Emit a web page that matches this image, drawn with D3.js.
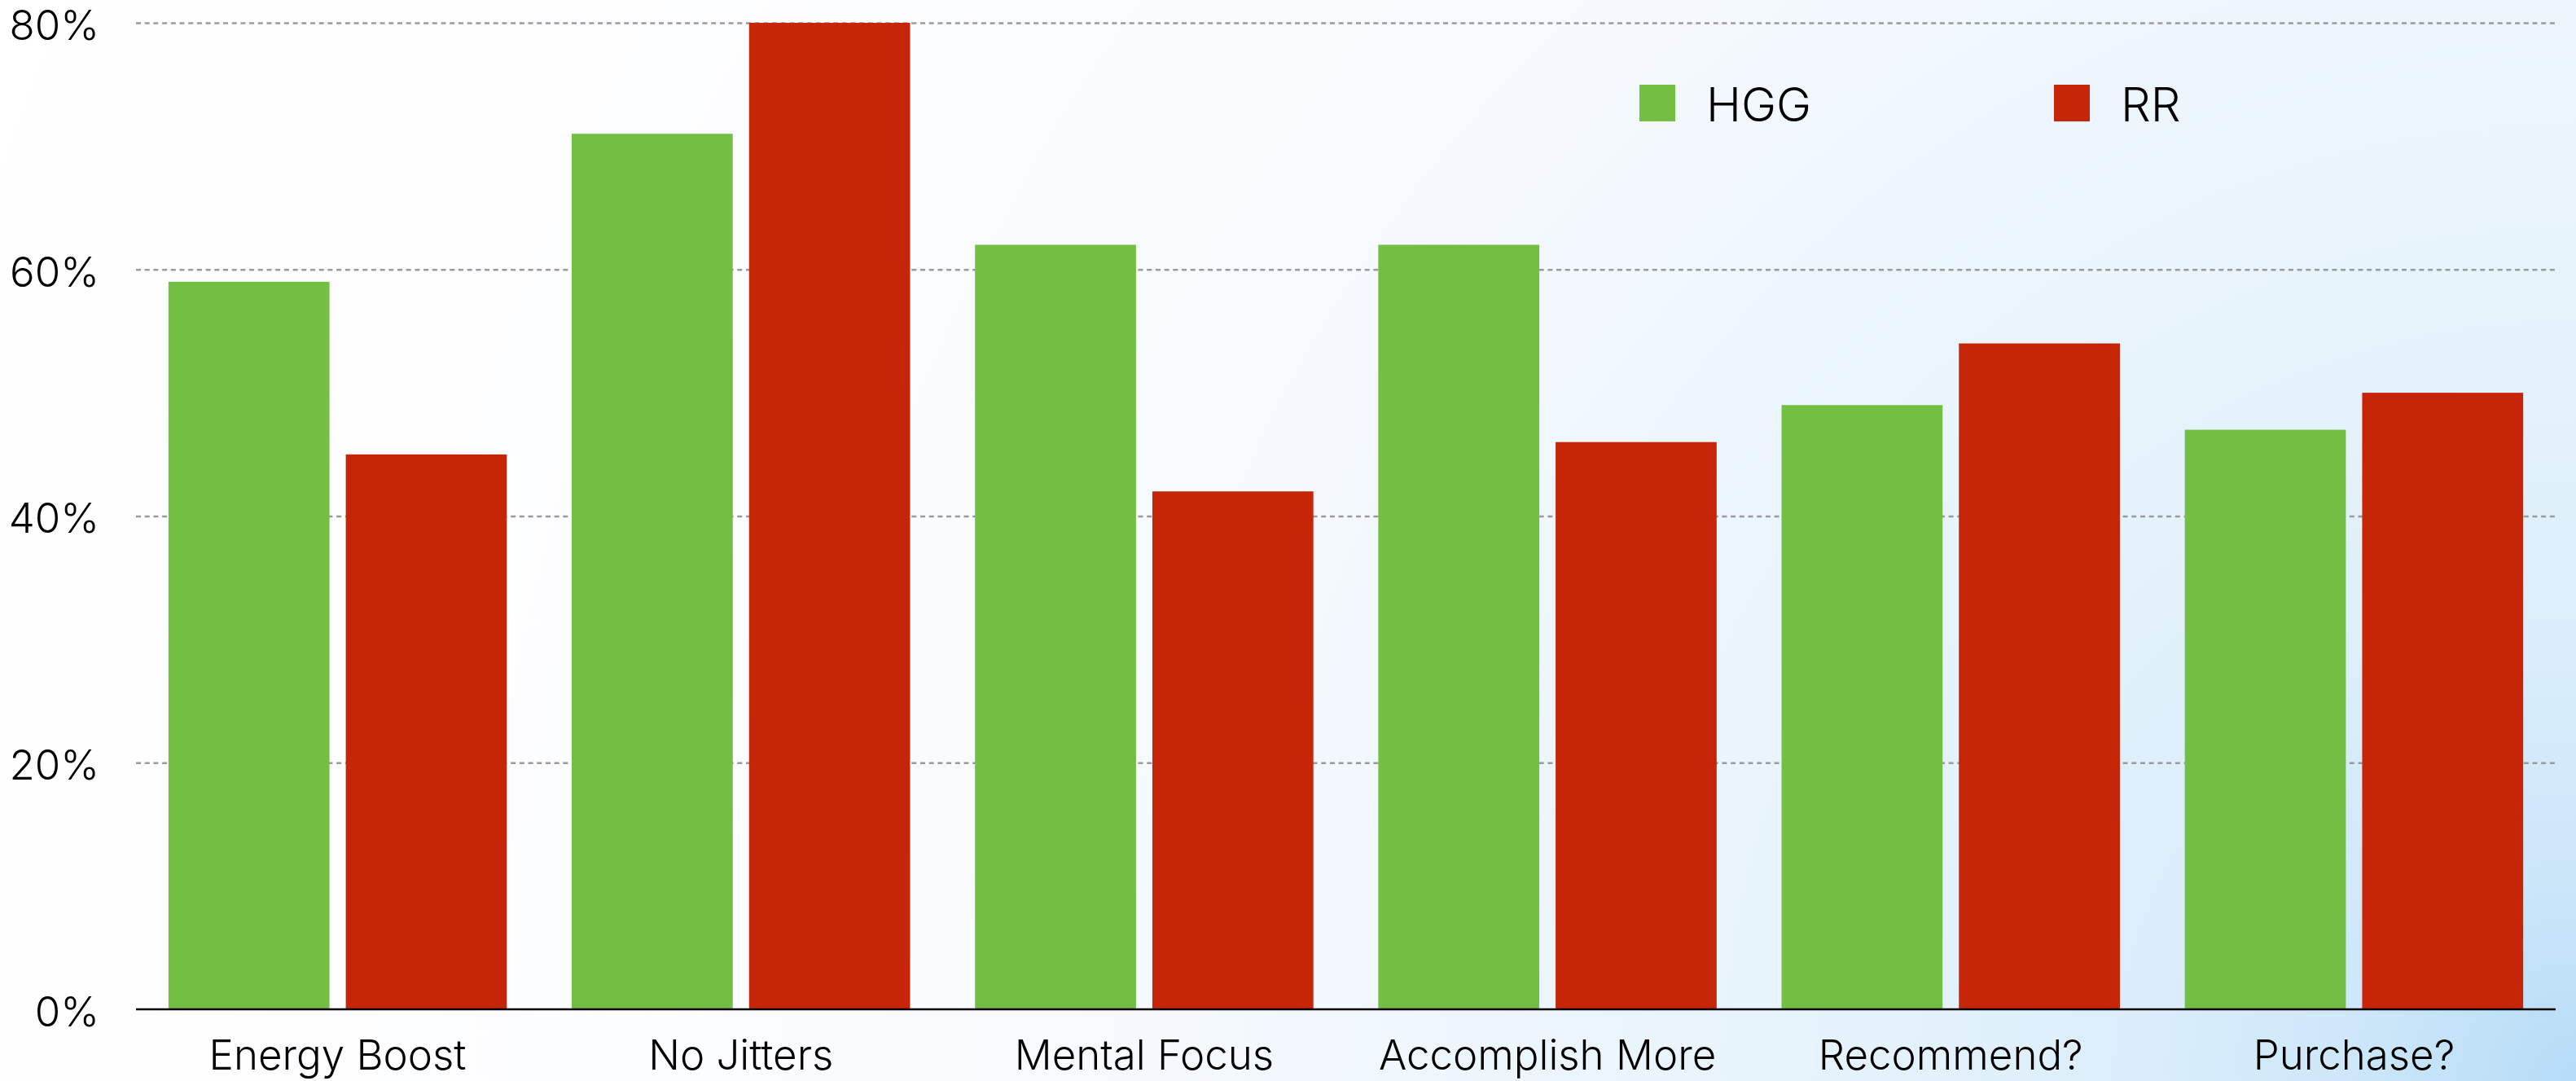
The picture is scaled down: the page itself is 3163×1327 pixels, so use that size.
<!DOCTYPE html>
<html>
<head>
<meta charset="utf-8">
<script src="https://cdn.jsdelivr.net/npm/d3@7"></script>
<style>
  html, body { margin: 0; padding: 0; background: #fff; }
  svg { display: block; }
  text { font-family: "Inter", "Roboto", "Liberation Sans", sans-serif; font-weight: 300; fill: #000; }
</style>
</head>
<body>
<svg id="chart" width="3163" height="1327"></svg>
<script>
// Survey results: share of respondents per question, by product
const categories = ["Energy Boost", "No Jitters", "Mental Focus", "Accomplish More", "Recommend?", "Purchase?"];
const series = ["HGG", "RR"];
const hggValues = [59, 71, 62, 62, 49, 47];
const rrValues = [45, 80, 42, 46, 54, 50];
const yTicks = [0, 20, 40, 60, 80];
const colors = { HGG: "#72bf44", RR: "#c72508" };

const W = 3163, H = 1327;
const margin = { left: 167, right: 25, top: 28, bottom: 88 };
const svg = d3.select("#chart");
const FONT = "Inter, Roboto, sans-serif";

// soft blue wash rising toward the lower-right corner
const defs = svg.append("defs");
const grad = defs.append("radialGradient")
  .attr("id", "bg").attr("gradientUnits", "userSpaceOnUse")
  .attr("cx", W).attr("cy", H).attr("r", 3430);
[[0, "#b6dcf6"], [0.08, "#cde7f9"], [0.18, "#deeffb"], [0.3, "#e8f4fc"],
 [0.4, "#eef6fd"], [0.5, "#f5f9fe"], [0.7, "#fcfdff"], [1, "#ffffff"]]
  .forEach(([o, c]) => grad.append("stop").attr("offset", o).attr("stop-color", c));
svg.append("rect").attr("width", W).attr("height", H).attr("fill", "url(#bg)");

const x0 = d3.scaleBand().domain(categories).range([margin.left, W - margin.right]).padding(0);
const x1 = d3.scaleBand().domain(series).range([0, x0.bandwidth()])
  .paddingInner(0.092).paddingOuter(0.183);
const y = d3.scaleLinear().domain([0, 80]).range([H - margin.bottom, margin.top]);

// dashed gridlines
const grid = svg.append("g")
  .attr("transform", `translate(${margin.left},0)`)
  .call(d3.axisLeft(y).tickValues(yTicks.filter(d => d > 0))
    .tickSize(-(W - margin.right - margin.left)).tickFormat(""));
grid.select(".domain").remove();
grid.selectAll(".tick line")
  .attr("stroke", "#9a9a9a").attr("stroke-width", 2.3).attr("stroke-dasharray", "6,4.7");

// y-axis labels
const yAxis = svg.append("g")
  .attr("transform", `translate(${margin.left},0)`)
  .call(d3.axisLeft(y).tickValues(yTicks).tickFormat(d => d + "%").tickSize(0).tickPadding(45));
yAxis.select(".domain").remove();
yAxis.selectAll("text").attr("font-size", 51).attr("dy", "0.4em").attr("fill", "#000")
  .style("font-family", FONT).style("font-weight", 300);

// bars
const rows = categories.map((c, i) => ({ category: c, HGG: hggValues[i], RR: rrValues[i] }));
const groups = svg.append("g").selectAll("g").data(rows).join("g")
  .attr("transform", d => `translate(${x0(d.category)},0)`);
groups.selectAll("rect")
  .data(d => series.map(s => ({ key: s, value: d[s] })))
  .join("rect")
  .attr("x", d => x1(d.key))
  .attr("width", x1.bandwidth())
  .attr("y", d => y(d.value))
  .attr("height", d => y(0) - y(d.value))
  .attr("fill", d => colors[d.key]);

// baseline
svg.append("line")
  .attr("x1", margin.left).attr("x2", W - margin.right)
  .attr("y1", y(0)).attr("y2", y(0))
  .attr("stroke", "#000").attr("stroke-width", 2.6);

// category labels
svg.append("g").selectAll("text").data(categories).join("text")
  .attr("x", d => x0(d) + x0.bandwidth() / 2)
  .attr("y", y(0) + 74)
  .attr("text-anchor", "middle")
  .attr("font-size", 51)
  .text(d => d);

// legend
const legendX = [2013, 2522];
const legend = svg.append("g").selectAll("g").data(series).join("g")
  .attr("transform", (d, i) => `translate(${legendX[i]},104)`);
legend.append("rect").attr("width", 44).attr("height", 45).attr("fill", d => colors[d]);
legend.append("text").attr("x", 82).attr("y", 45).attr("font-size", 58).text(d => d);
</script>
</body>
</html>
